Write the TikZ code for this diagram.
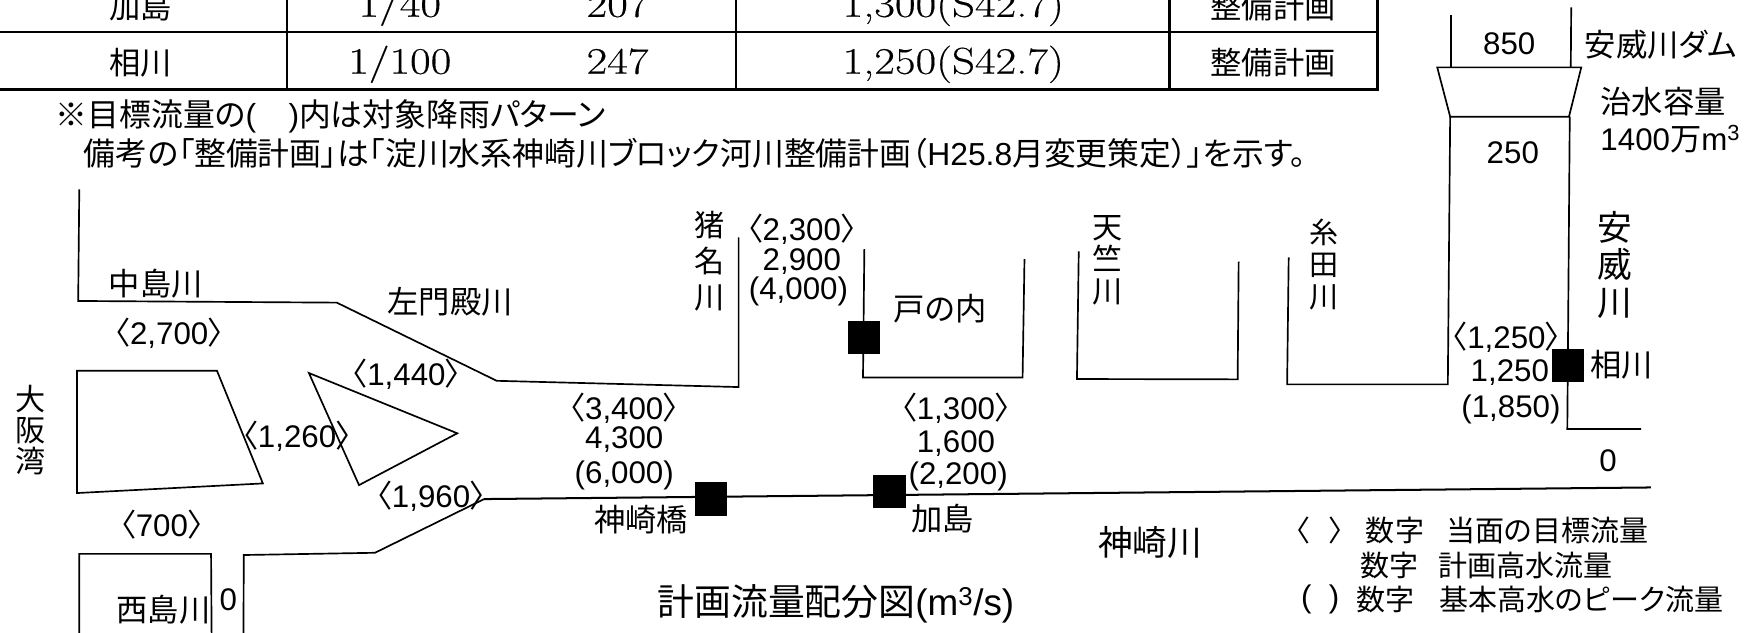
\documentclass[tikz,border=0pt]{standalone}
\usepackage{fontspec}
\newfontfamily\lsans{Liberation Sans}
\newfontfamily\cj[RawFeature=+palt]{Noto Sans CJK JP}
\newfontfamily\tabf[FakeStretch=1.2,FakeBold=0.35]{Latin Modern Roman}
\newcommand{\FS}[2]{\fontsize{#1}{#2}\selectfont}
\tikzset{
  lab/.style={inner sep=0pt,font=\lsans\FS{28}{30}},
  jp/.style={inner sep=0pt,font=\cj\FS{28}{30}},
  leg/.style={inner sep=0pt,anchor=west,font=\cj\FS{26}{30}},
  note/.style={inner sep=0pt,anchor=west,font=\cj\FS{28.5}{30}},
  big/.style={inner sep=0pt,font=\cj\FS{33}{34}},
  vert/.style={inner sep=0pt,align=center,font=\cj\FS{27}{#1}},
  tbl/.style={inner sep=0pt,anchor=base,font=\tabf\FS{33.5}{34}},
  riv/.style={draw=black,line width=1.5pt,line join=miter},
  rule/.style={draw=black,line width=2.5pt},
  gauge/.style={fill=black,draw=none}
}
\begin{document}
\begin{tikzpicture}[x=1pt,y=-1pt]
\clip (0,0) rectangle (1568,566);
\fill[white] (0,0) rectangle (1568,566);
% table
\draw[rule] (0,28.7) -- (1235,28.7);
\draw[rule] (0,80) -- (1235,80);
\draw[rule] (257,0) -- (257,80);
\draw[rule] (659,0) -- (659,80);
\draw[rule] (1047.6,0) -- (1047.6,80);
\draw[rule] (1233.5,0) -- (1233.5,80);
\node[jp] (t1) at (126,6) {加島};
\node[tbl] (t2) at (358,15) {1/40};
\node[tbl] (t3) at (553,15) {207};
\node[tbl] (t4) at (853.6,15) {1,300(S42.7)};
\node[jp] (t5) at (1140,6) {整備計画};
\node[jp] (t6) at (126,56) {相川};
\node[tbl] (t7) at (358,66) {1/100};
\node[tbl] (t8) at (553,66) {247};
\node[tbl] (t9) at (853.6,66) {1,250(S42.7)};
\node[jp] (t10) at (1140,56) {整備計画};
% notes
\node[note] (n1) at (49.7,104.5) {※目標流量の{\lsans (\hspace{29pt})}内は対象降雨パターン};
\node[note] (n2) at (75,137) {備考の「整備計画」は「淀川水系神崎川ブロック河川整備計画（{\lsans H25.8}月変更策定）」を示す。};
% rivers
\draw[riv] (71,169.5) -- (70,269.5) -- (301.6,271) -- (444.8,341) -- (661.4,346.6) -- (661.4,212.5);
\draw[riv] (774,223) -- (772.8,338) -- (915.7,338) -- (917.4,232);
\draw[riv] (966,225) -- (964.4,339.4) -- (1108.3,339.7) -- (1109.2,234.3);
\draw[riv] (1154,230.4) -- (1152.6,344.2) -- (1296.5,344.2) -- (1298.6,104.5);
\draw[riv] (1405.7,104.5) -- (1403.5,384.2) -- (1469.5,384.2);
\draw[riv] (1287,60.3) -- (1416,60.3) -- (1405,104.5) -- (1298.6,104.5) -- cycle;
\draw[riv] (1299.3,13.4) -- (1299.3,60.3);
\draw[riv] (1407,6.6) -- (1406.6,60.3);
\draw[riv,line width=1.8pt] (433.5,446.9) -- (1478.4,436.5);
\draw[riv] (218,570) -- (218.3,497) -- (335.8,495) -- (433.5,446.9);
\draw[riv] (71,570) -- (71,496) -- (189,496) -- (189.5,570);
\draw[riv] (69,332) -- (194.3,332) -- (235.4,432.9) -- (69,441.5) -- cycle;
\draw[riv] (276.6,334) -- (409.5,388) -- (321.5,434.4) -- cycle;
% gauges
\fill[gauge] (759,287) rectangle (788,317);
\fill[gauge] (1390,312.3) rectangle (1418.6,341.8);
\fill[gauge] (622,432) rectangle (650.8,461.8);
\fill[gauge] (782,425) rectangle (811,455.3);
% labels
\node[lab] (a1) at (151.5,298) {{\cj 〈}2,700{\cj 〉}};
\node[vert=28] (a2) at (27,385) {大\\阪\\湾};
\node[lab] (a3) at (364,335) {{\cj 〈}1,440{\cj 〉}};
\node[lab] (a4) at (266,391) {{\cj 〈}1,260{\cj 〉}};
\node[lab] (a5) at (386,444) {{\cj 〈}1,960{\cj 〉}};
\node[lab] (a6) at (145,470) {{\cj 〈}700{\cj 〉}};
\node[jp] (a7) at (146.5,546) {西島川};
\node[lab] (a8) at (204.5,537) {0};
\node[lab] (b1) at (559,366) {{\cj 〈}3,400{\cj 〉}};
\node[lab] (b2) at (559,394) {4,300};
\node[lab] (b3) at (559,426) {(6,000)};
\node[lab] (c1) at (856,366) {{\cj 〈}1,300{\cj 〉}};
\node[lab] (c2) at (856,397) {1,600};
\node[lab] (c3) at (858,427) {(2,200)};
\node[jp] (d1) at (574,465) {神崎橋};
\node[jp] (d2) at (844,464) {加島};
\node[big,font=\cj\FS{31}{34}] (d3) at (1030,486) {神崎川};
\node[big] (d4) at (748.5,541) {計画流量配分図{\lsans (m\textsuperscript{3}/s)}};
% legend
\node[leg] (e1) at (1160,474.6) {〈\hspace{17pt}〉};
\node[leg] (e2) at (1223,474.6) {数字};
\node[leg] (e3) at (1295,474.6) {当面の目標流量};
\node[leg] (e4) at (1217.8,506) {数字};
\node[leg] (e5) at (1288,506) {計画高水流量};
\node[lab,anchor=west] (e6) at (1165,537) {(\ \ )};
\node[leg] (e7) at (1214.6,537) {数字};
\node[leg] (e8) at (1288.6,537) {基本高水のピーク流量};
% dam side
\node[lab] (f1) at (1351.5,38.8) {850};
\node[jp,anchor=west] (f2) at (1419,40) {安威川ダム};
\node[lab] (f3) at (1354.7,137) {250};
\node[jp,anchor=west] (f4) at (1433,91) {治水容量};
\node[lab,anchor=west] (f5) at (1433,125) {1400{\cj 万}m\textsuperscript{3}};
\node[inner sep=0pt,align=center,font=\cj\FS{31}{33.5}] (f6) at (1446,237) {安\\威\\川};
\node[lab] (g1) at (1349,302) {{\cj 〈}1,250{\cj 〉}};
\node[lab] (g2) at (1352,334) {1,250};
\node[lab] (g3) at (1353,367) {(1,850)};
\node[jp] (g4) at (1452,327) {相川};
\node[lab] (g5) at (1440,413) {0};
\node[lab] (h1) at (718,205) {{\cj 〈}2,300{\cj 〉}};
\node[lab] (h2) at (718,234) {2,900};
\node[lab] (h3) at (715,261) {(4,000)};
\node[vert=32.5] (h4) at (635,234) {猪\\名\\川};
\node[jp] (i1) at (842,276) {戸の内};
\node[vert=28.5] (i2) at (992,233) {天\\竺\\川};
\node[inner sep=0pt,align=center,font=\cj\FS{26}{28.5}] (i3) at (1186,237) {糸\\田\\川};
\node[jp] (i4) at (403,270) {左門殿川};
\node[jp] (i5) at (139.5,254) {中島川};
\end{tikzpicture}
\end{document}
